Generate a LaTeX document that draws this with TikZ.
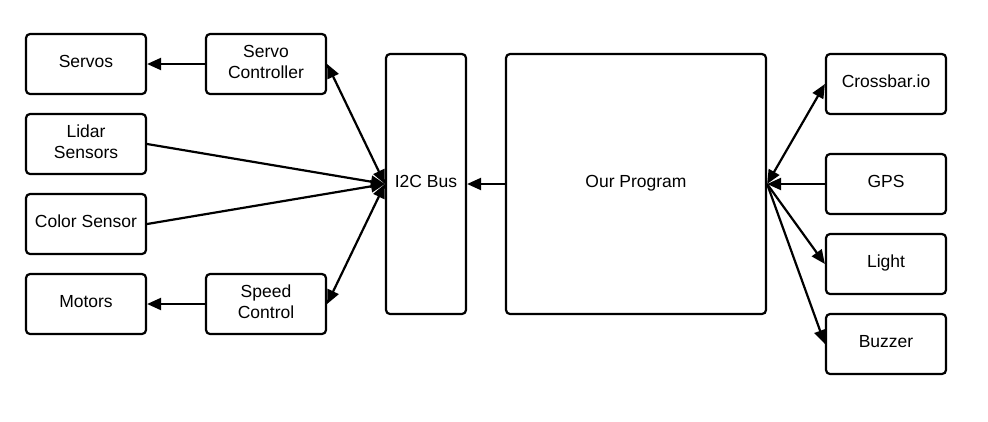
\documentclass[tikz,border=0pt]{standalone}
\usepackage{fontspec}
\setmainfont{Liberation Sans}
\usetikzlibrary{arrows.meta}
\begin{document}
\begin{tikzpicture}[x=1pt,y=-1pt,
  box/.style={draw, line width=2.2pt, rounded corners=4pt, inner sep=0pt, align=center,
    text depth=5pt, font=\fontsize{17.5}{21}\selectfont},
  conn/.style={line width=2.2pt, -{Triangle[length=14pt,width=12pt]}},
  biconn/.style={line width=2.2pt, {Triangle[length=14pt,width=12pt]}-{Triangle[length=14pt,width=12pt]}}
]
\useasboundingbox (0,0) rectangle (988,421);
\node[box, minimum width=120pt, minimum height=60pt] (servos) at (86,64) {Servos};
\node[box, minimum width=120pt, minimum height=60pt] (servoctl) at (266,64) {Servo\\Controller};
\node[box, minimum width=120pt, minimum height=60pt] (lidar) at (86,144) {Lidar\\Sensors};
\node[box, minimum width=120pt, minimum height=60pt] (color) at (86,224) {Color Sensor};
\node[box, minimum width=120pt, minimum height=60pt] (motors) at (86,304) {Motors};
\node[box, minimum width=120pt, minimum height=60pt] (speed) at (266,304) {Speed\\Control};
\node[box, minimum width=80pt, minimum height=260pt] (i2c) at (426,184) {I2C Bus};
\node[box, minimum width=260pt, minimum height=260pt] (prog) at (636,184) {Our Program};
\node[box, minimum width=120pt, minimum height=60pt] (crossbar) at (886,84) {Crossbar.io};
\node[box, minimum width=120pt, minimum height=60pt] (gps) at (886,184) {GPS};
\node[box, minimum width=120pt, minimum height=60pt] (light) at (886,264) {Light};
\node[box, minimum width=120pt, minimum height=60pt] (buzzer) at (886,344) {Buzzer};

\draw[conn] (servoctl.west) -- (servos.east);
\draw[conn] (speed.west) -- (motors.east);
\draw[biconn] (servoctl.east) -- (i2c.west);
\draw[biconn] (speed.east) -- (i2c.west);
\draw[conn] (lidar.east) -- (i2c.west);
\draw[conn] (color.east) -- (i2c.west);
\draw[conn] (prog.west) -- (i2c.east);
\draw[biconn] (prog.east) -- (crossbar.west);
\draw[conn] (gps.west) -- (prog.east);
\draw[conn] (prog.east) -- (light.west);
\draw[conn] (prog.east) -- (buzzer.west);
\end{tikzpicture}
\end{document}
